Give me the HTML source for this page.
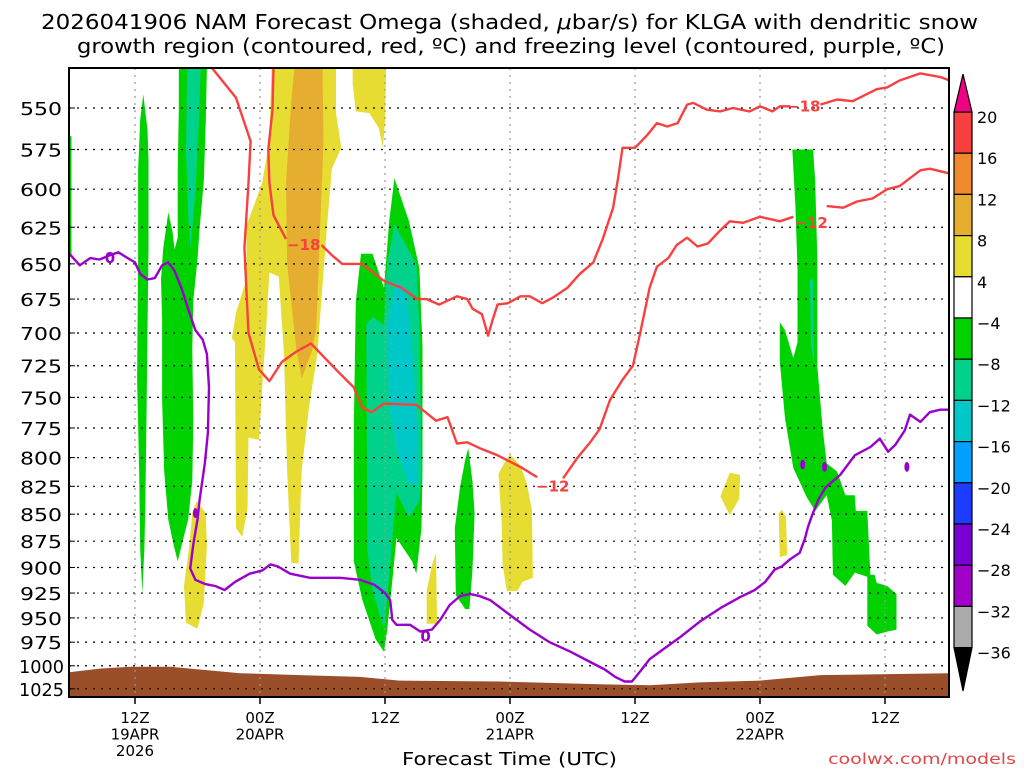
<!DOCTYPE html>
<html><head><meta charset="utf-8"><style>
html,body{margin:0;padding:0;background:#fff}
svg{display:block}
text{font-family:"DejaVu Sans","Liberation Sans",sans-serif}
</style></head><body>
<svg id="chart" width="1024" height="768" viewBox="0 0 1024 768" xmlns="http://www.w3.org/2000/svg">
<text x="41" y="29" font-size="20" textLength="937" lengthAdjust="spacingAndGlyphs">2026041906 NAM Forecast Omega (shaded, <tspan font-style="italic">μ</tspan>bar/s) for KLGA with dendritic snow</text>
<text x="77" y="53" font-size="20" textLength="868" lengthAdjust="spacingAndGlyphs">growth region (contoured, red, ºC) and freezing level (contoured, purple, ºC)</text>
<text x="402" y="765" font-size="18" textLength="215" lengthAdjust="spacingAndGlyphs">Forecast Time (UTC)</text>
<text x="828" y="764" font-size="15" fill="#e04848" textLength="188" lengthAdjust="spacingAndGlyphs">coolwx.com/models</text>
<defs><clipPath id="plotclip"><rect x="69" y="68" width="880" height="629"/></clipPath></defs>
<g id="shade" clip-path="url(#plotclip)"></g>
<g id="grid"></g>
<g id="lines" clip-path="url(#plotclip)"></g>
<g id="axes"></g>
<g id="cbar"></g>
</svg>
<script>
// ---- data ----
const timeTicks = [0, 12, 24, 36, 48, 60, 72];
const timeTickLabels = [["12Z","19APR","2026"],["00Z","20APR"],["12Z"],["00Z","21APR"],["12Z"],["00Z","22APR"],["12Z"]];
const pressureTicks = [550,575,600,625,650,675,700,725,750,775,800,825,850,875,900,925,950,975,1000,1025];
const colorLevels = ["20","16","12","8","4","−4","−8","−12","−16","−20","−24","−28","−32","−36"];
const colorFills = ["#f84040","#f08a2c","#e6ae30","#e6dc32","#ffffff","#00d200","#00d28c","#00c8c8","#00a0ff","#1e3cff","#7800d2","#a000c8","#aaaaaa"];
const surfacePressure = [[-6.3,1007],[-3.4,1003],[-0.5,1001],[3.4,1001],[6.2,1004],[10.1,1008],[15.8,1010],[21.6,1012],[25.4,1016],[35,1017],[44.6,1020],[49.4,1021],[54.2,1018],[60,1016],[65.8,1010],[78.1,1008]];
const greenAreas = [
 [[-6.3,567],[-6.1,567],[-6.1,645],[-6.3,645]],
 [[0.8,542],[1.2,563],[1.3,581],[1.3,640],[1.2,698],[1.1,766],[1,837],[0.9,882],[0.7,925],[0.5,882],[0.4,814],[0.2,735],[0.3,647],[0.3,588],[0.5,557]],
 [[4.2,527],[6.9,527],[6.8,557],[6.6,595],[6.2,626],[6,647],[5.6,676],[5.5,712],[5.6,770],[5.5,820],[5.1,855],[4.5,878],[4.1,894],[3.7,878],[3.2,855],[2.8,812],[2.6,752],[2.6,690],[2.5,661],[2.7,640],[3.2,615],[3.6,628],[3.8,640],[4.1,632],[4.1,588],[4.2,551]],
 [[24.9,593],[26.3,621],[27.3,653],[27.6,710],[27.6,811],[27.5,863],[27,906],[26.6,894],[25.1,872],[24.6,923],[24.2,963],[23.9,985],[23.1,972],[21.8,931],[21,894],[21,774],[21.2,677],[21.7,643],[22.8,643],[23.9,667],[24.4,621]],
 [[32,792],[32.4,821],[32.6,849],[32.4,902],[32.1,941],[31.7,941],[30.8,927],[30.7,863],[31.2,826],[31.7,802]],
 [[63.1,575],[65.1,575],[65.3,595],[65.5,646],[65.5,725],[66,774],[66.4,805],[67.4,812],[68.2,833],[69.1,833],[69.2,847],[70.3,847],[70.6,907],[71,907],[71.2,915],[72.2,918],[73.1,926],[73.1,962],[72.2,964],[71.2,967],[70.3,958],[70.3,909],[69.1,905],[68.2,918],[67,907],[66.9,856],[66.4,833],[65.3,847],[64.5,835],[63.2,809],[62.4,767],[61.9,722],[61.9,692],[62.4,698],[63.2,719],[63.6,707],[63.6,654],[63.4,611]]
];
const tealAreas = [
 [[5.0,527],[6.3,527],[6.1,563],[5.8,601],[5.5,626],[5.3,640],[5.1,615],[4.9,576]],
 [[24.9,623],[27,650],[27.3,694],[27.5,811],[27.3,838],[26.3,853],[25.1,831],[24.6,883],[24.2,931],[23.9,961],[22.8,923],[22.3,883],[22.2,694],[22.8,688],[23.9,694],[24.2,650]],
 [[64.8,661],[65.1,661],[65.2,725],[64.9,710]]
];
const cyanAreas = [
 [[25.1,662],[26,667],[26.6,710],[27.1,774],[27.1,823],[26.3,823],[25.2,796],[24.4,758],[24.2,694]]
];
const yellowAreas = [
 [[13.1,527],[19.3,527],[19.3,553],[19.8,574],[18.9,587],[18.4,627],[17.5,716],[16.7,758],[16,811],[15.7,896],[15,896],[14.6,811],[14.3,716],[13.8,659],[12.9,656],[12.6,695],[12.1,758],[11.9,785],[10.9,783],[10.8,845],[10.3,871],[9.7,863],[9.6,707],[9.3,704],[9.7,685],[10.7,661],[10.7,624],[12.2,596],[12.9,570]],
 [[20.9,527],[24.1,527],[24,558],[23.8,574],[23.4,562],[22.5,553],[21.2,552],[20.9,536]],
 [[28.9,886],[29,956],[28,956],[28,923],[28.5,898]],
 [[5.9,838],[6.8,849],[6.9,880],[6.6,935],[6,961],[4.9,955],[4.7,918],[5.2,880],[5.5,849]],
 [[36,797],[37,807],[37.6,822],[38.1,846],[38.2,910],[37.2,914],[36.7,923],[35.7,923],[35.3,898],[35.2,859],[34.9,814],[35.5,804]],
 [[57.1,813],[58.1,815],[58,836],[57.1,851],[56.2,834]],
 [[62.1,846],[62.5,853],[62.6,888],[61.9,890],[61.8,849]]
];
const goldAreas = [
 [[15.3,527],[18,527],[18.1,570],[17.9,602],[17.4,697],[17,713],[16,735],[15.5,713],[14.6,650],[14.5,596],[15,546]]
];
const freezingLine = [[-6.3,643],[-5.3,651],[-4.3,646],[-3.4,647],[-2.4,644],[-1.6,642],[-0.7,646],[0,649],[0.5,657],[1.2,661],[1.9,660],[2.6,651],[3.2,649],[3.8,655],[4.5,668],[5.1,682],[5.8,698],[6.5,705],[6.9,716],[7.1,742],[7,779],[6.7,805],[6.2,837],[6,855],[5.6,878],[5.3,901],[5.8,912],[6.7,916],[7.7,918],[8.6,922],[9.6,914],[11,906],[12.2,903],[13,897],[13.7,899],[14.9,906],[16.8,910],[19.7,910],[21.6,912],[23,917],[24,925],[24.5,932],[24.7,952],[25.1,957],[26.4,957],[27.4,964],[28.5,962],[29.3,952],[30.2,937],[31.2,928],[32.2,926],[33.1,928],[34.1,932],[36,947],[37.9,962],[39.8,975],[41.8,985],[43.7,996],[45.1,1004],[46.1,1012],[47,1017],[47.7,1017],[48.5,1006],[49.4,993],[50.9,981],[52.3,970],[54.2,954],[56.2,940],[58.1,929],[59.5,922],[60.5,914],[61.4,902],[62.1,899],[62.9,892],[63.8,886],[64.3,873],[64.6,862],[65,851],[65.6,837],[66.3,826],[67.7,815],[69.1,798],[70.6,791],[71.5,784],[72.3,795],[73,789],[73.9,777],[74.4,764],[75.4,770],[76.3,762],[77.3,760],[78.1,760]];
const freezingBlobs = [[5.8,849],[64.1,806],[74.1,808],[66.2,808]];
const dgzLineA1 = [[7.4,527],[9.7,544],[11.1,570],[10.9,596],[10.5,639],[10.9,700],[11.9,728],[12.9,737],[14.1,722],[15.5,714],[16.9,708],[19.3,728],[21,742],[21.8,758],[22.7,762],[23.9,755],[27,756],[28.9,769],[30,766],[30.9,788],[31.9,787],[33.1,792],[34.8,798],[37,808],[38.6,817]];
const dgzLineA2 = [[41.1,818],[42.4,801],[43.7,787],[44.6,776],[45.6,752],[46.8,736],[47.8,725],[48.5,700],[49.4,667],[50.1,652],[51.2,646],[52,637],[53,632],[54,638],[55,636],[56.2,627],[57.1,621],[58.4,622],[60,618],[61.9,621],[63.2,618]];
const dgzLineA3 = [[66.4,611],[68,612],[69.3,608],[70.8,606],[72.2,600],[73.4,598],[75.4,588],[76.3,587],[78.2,590]];
const dgzLineB1 = [[13.3,527],[13.2,551],[12.8,575],[12.9,596],[13.3,617],[14.5,633]];
const dgzLineB2 = [[17.9,637],[18.9,644],[19.9,650],[21.8,650],[23.9,662],[25.6,667],[27.1,675],[28,675],[29.2,679],[30.9,673],[31.9,675],[32.4,682],[33.3,686],[33.9,702],[34.3,691],[34.8,679],[35.8,678],[37,673],[37.9,673],[39.1,678],[40.1,674],[41.5,667],[42.7,657],[44,649],[44.9,633],[45.9,612],[46.4,592],[46.8,574],[48,574],[49.2,566],[50.1,559],[51.1,561],[52.1,559],[53,548],[53.6,547],[54.9,551],[56.2,552],[57.4,550],[59,552],[60,549],[61.2,552],[61.9,549],[62.9,549]];
const dgzLineB3 = [[65.8,548],[67.4,545],[68.9,546],[71.2,539],[72.2,538],[73.4,534],[75.4,530],[77.3,532],[78.2,534]];
const redLabels = [["−18",16.2,637],["−12",40.1,825],["−12",64.9,622],["−18",64.2,549]];
const purpleLabels = [["0",-2.4,646],["0",27.9,969]];

// ---- axes ----
const NS = "http://www.w3.org/2000/svg";
const X0 = 135, PXH = 125/12, Y0 = 108, PYL = 933;
function xs(h){ return X0 + h*PXH; }
function ys(p){ return Y0 + PYL*Math.log(p/550); }
function mk(tag, attrs, parent){ const e=document.createElementNS(NS,tag); for(const k in attrs) e.setAttribute(k,attrs[k]); parent.appendChild(e); return e; }
function pts(arr){ return arr.map(d=>xs(d[0]).toFixed(1)+","+ys(d[1]).toFixed(1)).join(" "); }

const shade=document.getElementById("shade"), grid=document.getElementById("grid"), lines=document.getElementById("lines"), axes=document.getElementById("axes"), cbar=document.getElementById("cbar");

function areas(list, color, name){
  list.forEach(a=>{
    const e = mk("polygon",{points:pts(a),fill:color},shade);
    
    
  });
}
areas(yellowAreas,"#e6dc32","omega-area-4-8");
areas(goldAreas,"#e6ae30","omega-area-8-12");
areas(greenAreas,"#00d200","omega-area-neg4-neg8");
areas(tealAreas,"#00d28c","omega-area-neg8-neg12");
areas(cyanAreas,"#00c8c8","omega-area-neg12-neg16");

// ground
const gp = surfacePressure.map(d=>[xs(d[0]),ys(d[1])]);
let gstr = gp.map(p=>p[0].toFixed(1)+","+p[1].toFixed(1)).join(" ") + " 949,700 69,700";
const ground = mk("polygon",{points:gstr,fill:"#9a4f2a"},shade);



// grid
pressureTicks.forEach(p=>{
  const y=ys(p);
  const g=mk("line",{x1:69,x2:949,y1:y,y2:y,stroke:"#000","stroke-width":1.2,"stroke-dasharray":"2 6"},grid);
  
  
  const s=String(p);
  const t=mk("text",{x:s.length===3?20:19,y:y+7,"font-size":18,textLength:s.length===3?42:45,lengthAdjust:"spacingAndGlyphs"},axes);
  t.textContent=s;
  
  
  const tk=mk("line",{x1:69,x2:75,y1:y,y2:y,stroke:"#000","stroke-width":1},axes);
  
  
});
timeTicks.forEach((h,i)=>{
  const x=xs(h);
  const g=mk("line",{x1:x,x2:x,y1:68,y2:697,stroke:"#999","stroke-width":1.2,"stroke-dasharray":"2 5"},grid);
  
  
  const tk=mk("line",{x1:x,x2:x,y1:697,y2:704,stroke:"#000","stroke-width":1.5},axes);
  
  
  timeTickLabels[i].forEach((s,j)=>{
    const t=mk("text",{x:x,y:723+j*16.5,"text-anchor":"middle","font-size":15},axes);
    t.textContent=s;
    
    
  });
});

// lines
function line(arr,color,name){
  const e=mk("polyline",{points:pts(arr),fill:"none",stroke:color,"stroke-width":2.4,"stroke-linejoin":"round"},lines);
  
  
}
[dgzLineA1,dgzLineA2,dgzLineA3].forEach(a=>line(a,"#f84040","dgz-contour-minus12"));
[dgzLineB1,dgzLineB2,dgzLineB3].forEach(a=>line(a,"#f84040","dgz-contour-minus18"));
line(freezingLine,"#9a00cc","freezing-level-contour");
freezingBlobs.forEach(b=>{
  const e=mk("ellipse",{cx:xs(b[0]),cy:ys(b[1]),rx:2.5,ry:5,fill:"#9a00cc"},lines);
  
  
});
redLabels.forEach(l=>{
  const t=mk("text",{x:xs(l[1]),y:ys(l[2])+5,"text-anchor":"middle","font-size":15,"font-weight":"bold",fill:"#f84040"},lines);
  t.textContent=l[0];
  
  
});
purpleLabels.forEach(l=>{
  const t=mk("text",{x:xs(l[1]),y:ys(l[2])+5,"text-anchor":"middle","font-size":15,"font-weight":"bold",fill:"#9a00cc"},lines);
  t.textContent=l[0];
  
  
});

// frame
const fr=mk("rect",{x:69,y:68,width:880,height:629,fill:"none",stroke:"#000","stroke-width":2},axes);



// colorbar
const CB0=112, CBS=41.2, CX=954, CW=18;
colorFills.forEach((c,i)=>{
  const r=mk("rect",{x:CX,y:CB0+i*CBS,width:CW,height:CBS,fill:c,stroke:"#000","stroke-width":1.2},cbar);
  
  
});
const up=mk("polygon",{points:`${CX},${CB0} ${CX+CW},${CB0} ${CX+CW/2},74`,fill:"#f00082",stroke:"#000","stroke-width":1.2},cbar);


const endY=CB0+colorFills.length*CBS;
const dn=mk("polygon",{points:`${CX},${endY} ${CX+CW},${endY} ${CX+CW/2},691`,fill:"#000",stroke:"#000","stroke-width":1.2},cbar);


colorLevels.forEach((s,i)=>{
  const t=mk("text",{x:977,y:CB0+i*CBS+11,"font-size":16},cbar);
  t.textContent=s;
  
  
});
</script>
</body></html>
